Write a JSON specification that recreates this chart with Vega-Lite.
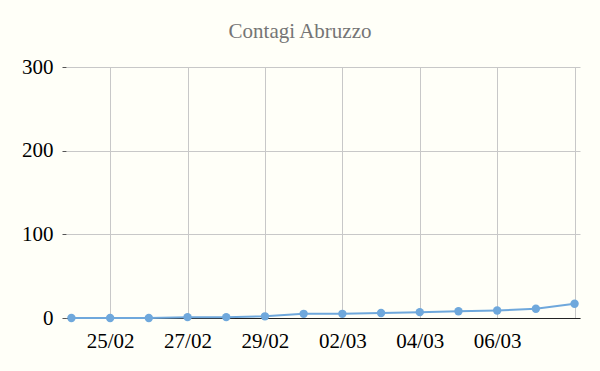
{
  "$schema": "https://vega.github.io/schema/vega-lite/v6.json",
  "autosize": "none",
  "width": 514,
  "height": 251,
  "padding": {"left": 66, "top": 67, "right": 20, "bottom": 53},
  "background": "#fffff8",
  "title": {"text": "Contagi Abruzzo", "font": "Liberation Serif", "fontSize": 21, "fontWeight": "normal", "color": "#757575", "offset": 14, "dx": -23},
  "config": {"view": {"stroke": null}},
  "data": {"values": [
    {"date": "24/02", "cases": 0},
    {"date": "25/02", "cases": 0},
    {"date": "26/02", "cases": 0},
    {"date": "27/02", "cases": 1},
    {"date": "28/02", "cases": 1},
    {"date": "29/02", "cases": 2},
    {"date": "01/03", "cases": 5},
    {"date": "02/03", "cases": 5},
    {"date": "03/03", "cases": 6},
    {"date": "04/03", "cases": 7},
    {"date": "05/03", "cases": 8},
    {"date": "06/03", "cases": 9},
    {"date": "07/03", "cases": 11},
    {"date": "08/03", "cases": 17}
  ]},
  "encoding": {
    "x": {"field": "date", "type": "ordinal", "sort": null, "title": null,
      "scale": {"type": "point", "padding": 0.14},
      "axis": {"values": ["25/02", "27/02", "29/02", "02/03", "04/03", "06/03", "08/03"],
        "labelExpr": "datum.value == '08/03' ? '' : datum.value",
        "labelAngle": 0, "labelFont": "Liberation Serif", "labelFontSize": 21, "labelColor": "#000",
        "labelPadding": 12, "ticks": false, "domainColor": "#222", "domainWidth": 1.2,
        "grid": true, "gridColor": "#c8c8c8", "gridWidth": 1}},
    "y": {"field": "cases", "type": "quantitative", "title": null,
      "scale": {"domain": [0, 300]},
      "axis": {"values": [0, 100, 200, 300], "labelFont": "Liberation Serif", "labelFontSize": 21, "labelColor": "#000",
        "labelPadding": 9, "tickSize": 4, "tickColor": "#555", "domain": false,
        "grid": true, "gridColor": "#c8c8c8", "gridWidth": 1}}
  },
  "layer": [
    {"mark": {"type": "line", "color": "#6fa8dc", "strokeWidth": 2}},
    {"mark": {"type": "point", "filled": true, "color": "#6fa8dc", "size": 70, "opacity": 1}}
  ]
}
